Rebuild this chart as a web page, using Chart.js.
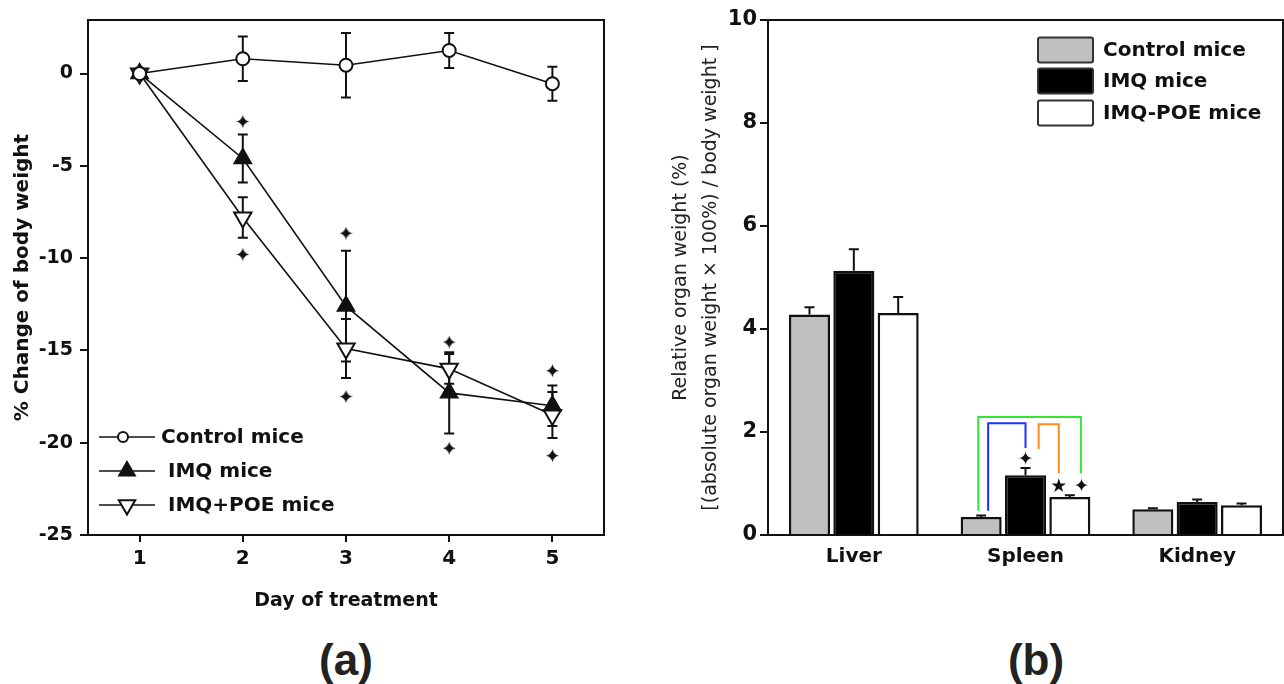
<!DOCTYPE html>
<html>
<head>
<meta charset="utf-8">
<script src="https://cdn.jsdelivr.net/npm/chart.js"></script>
<style>
  html, body { margin: 0; background: #fff; }
  body { width: 1284px; height: 684px; position: relative; overflow: hidden; }
  .box { position: absolute; top: 0; height: 620px; }
  #boxA { left: 0; width: 620px; }
  #boxB { left: 640px; width: 644px; }
  .tag { position: absolute; top: 634px; width: 120px; text-align: center;
         font: bold 44px "Liberation Sans", Arial, sans-serif; line-height: 52px; color: #222; }
</style>
</head>
<body>
<div class="box" id="boxA"><canvas id="weightChart"></canvas></div>
<div class="box" id="boxB"><canvas id="organChart"></canvas></div>
<div class="tag" style="left:286px">(a)</div>
<div class="tag" style="left:976px">(b)</div>
<script>
// (a) body weight change per day
const days = ['1', '2', '3', '4', '5'];
const weightTicks = [0, -5, -10, -15, -20, -25];
const controlMean = [0, 0.8, 0.45, 1.25, -0.55];
const controlErr = [0, 1.2, 1.75, 0.95, 0.92];
const imqMean = [0, -4.6, -12.6, -17.3, -18.0];
const imqErr = [0, 1.3, 3.0, 2.2, 1.1];
const poeMean = [0, -7.8, -14.9, -16.0, -18.5];
const poeErr = [0, 1.1, 1.6, 0.8, 1.25];
const markAbove = [null, -2.6, -8.65, -14.55, -16.1];
const markBelow = [null, -9.8, -17.5, -20.3, -20.7];

// (b) relative organ weight
const organs = ['Liver', 'Spleen', 'Kidney'];
const controlOrgan = [4.28, 0.35, 0.5];
const controlOrganErr = [0.14, 0.03, 0.02];
const imqOrgan = [5.13, 1.16, 0.64];
const imqOrganErr = [0.42, 0.14, 0.05];
const poeOrgan = [4.31, 0.74, 0.58];
const poeOrganErr = [0.31, 0.03, 0.03];
const imqOrganMark = ['', '✦', ''];
const imqOrganMarkAt = [null, 1.46, null];
const poeOrganMark = ['', '★ ✦', ''];
const poeOrganMarkAt = [null, 0.93, null];
// significance brackets over spleen (series index from/to, levels in %)
const brackets = [
  { cat: 1, from: 0, to: 2, top: 2.29, fromEnd: 0.47, toEnd: 1.2 },
  { cat: 1, from: 0, to: 1, top: 2.17, fromEnd: 0.47, toEnd: 1.69 },
  { cat: 1, from: 1, to: 2, top: 2.15, fromEnd: 1.67, toEnd: 1.2 },
];
const bracketStyle = [
  { color: '#33e633', dx: [-0.07, 0.27] },
  { color: '#1f2fff', dx: [0.17, 0] },
  { color: '#ff8a1c', dx: [0.32, -0.27] },
];

const ink = '#111';
const FONT = '"DejaVu Sans", sans-serif';
Chart.defaults.font.family = FONT;
Chart.defaults.color = ink;
Chart.defaults.animation = false;

// four point star used as point style
const starMark = (() => {
  const c = document.createElement('canvas');
  c.width = 13; c.height = 13;
  const g = c.getContext('2d');
  g.fillStyle = ink;
  g.beginPath();
  g.moveTo(6.5, 0);
  g.quadraticCurveTo(7.6, 5.4, 13, 6.5);
  g.quadraticCurveTo(7.6, 7.6, 6.5, 13);
  g.quadraticCurveTo(5.4, 7.6, 0, 6.5);
  g.quadraticCurveTo(5.4, 5.4, 6.5, 0);
  g.fill();
  return c;
})();

const frame = {
  id: 'frame',
  afterDraw(chart) {
    const { ctx, chartArea: a } = chart;
    ctx.save();
    ctx.strokeStyle = ink;
    ctx.lineWidth = 2;
    ctx.strokeRect(a.left, a.top, a.right - a.left, a.bottom - a.top);
    ctx.restore();
  }
};

const lineErrors = {
  id: 'lineErrors',
  beforeDatasetsDraw(chart) {
    const { ctx, scales: { y } } = chart;
    ctx.save();
    ctx.strokeStyle = ink;
    ctx.lineWidth = 2;
    chart.data.datasets.forEach((ds, i) => {
      if (!ds.errors) return;
      chart.getDatasetMeta(i).data.forEach((pt, j) => {
        const e = ds.errors[j];
        if (!e) return;
        const yt = y.getPixelForValue(ds.data[j] + e);
        const yb = y.getPixelForValue(ds.data[j] - e);
        ctx.beginPath();
        ctx.moveTo(pt.x, yt); ctx.lineTo(pt.x, yb);
        ctx.moveTo(pt.x - 5, yt); ctx.lineTo(pt.x + 5, yt);
        ctx.moveTo(pt.x - 5, yb); ctx.lineTo(pt.x + 5, yb);
        ctx.stroke();
      });
    });
    ctx.restore();
  }
};

function drawMarker(ctx, style, x, y, r, rot, fill) {
  ctx.beginPath();
  if (style === 'circle') {
    ctx.arc(x, y, r, 0, Math.PI * 2);
  } else {
    let a = rot * Math.PI / 180;
    for (let k = 0; k < 3; k++) {
      const px = x + Math.sin(a) * r, py = y - Math.cos(a) * r;
      k ? ctx.lineTo(px, py) : ctx.moveTo(px, py);
      a += Math.PI * 2 / 3;
    }
    ctx.closePath();
  }
  ctx.fillStyle = fill;
  ctx.fill();
  ctx.stroke();
}

const lineLegend = {
  id: 'lineLegend',
  afterDraw(chart) {
    const { ctx, chartArea: a } = chart;
    const rows = [98, 64, 30];
    const textX = [73, 80, 80];
    ctx.save();
    ctx.strokeStyle = ink;
    ctx.font = 'bold 20px ' + FONT;
    ctx.textBaseline = 'middle';
    chart.data.datasets.slice(0, 3).forEach((ds, i) => {
      const y = a.bottom - rows[i];
      const x0 = a.left + 11;
      ctx.lineWidth = 1.5;
      ctx.beginPath();
      ctx.moveTo(x0, y); ctx.lineTo(x0 + 56, y);
      ctx.stroke();
      ctx.lineWidth = ds.pointBorderWidth;
      if (ds.pointStyle === 'circle') drawMarker(ctx, 'circle', x0 + 24, y, 5, 0, ds.pointBackgroundColor);
      else drawMarker(ctx, 'triangle', x0 + 28, y, 9.5, ds.pointRotation || 0, ds.pointBackgroundColor);
      ctx.fillStyle = ink;
      ctx.fillText(ds.label, a.left + textX[i], y + 1);
    });
    ctx.restore();
  }
};

new Chart(document.getElementById('weightChart'), {
  type: 'line',
  data: {
    labels: days,
    datasets: [
      { label: 'Control mice', data: controlMean, errors: controlErr, pointStyle: 'circle', pointRadius: 6.5,
        pointBorderWidth: 2, pointBackgroundColor: '#fff', pointBorderColor: ink, borderColor: ink, borderWidth: 1.6 },
      { label: 'IMQ mice', data: imqMean, errors: imqErr, pointStyle: 'triangle', pointRadius: 10,
        pointBorderWidth: 1.5, pointBackgroundColor: ink, pointBorderColor: ink, borderColor: ink, borderWidth: 1.6 },
      { label: 'IMQ+POE mice', data: poeMean, errors: poeErr, pointStyle: 'triangle', pointRotation: 180, pointRadius: 10,
        pointBorderWidth: 2, pointBackgroundColor: '#fff', pointBorderColor: ink, borderColor: ink, borderWidth: 1.6 },
      { label: 'sig up', data: markAbove, showLine: false, pointStyle: starMark },
      { label: 'sig down', data: markBelow, showLine: false, pointStyle: starMark },
    ],
  },
  plugins: [lineErrors, frame, lineLegend],
  options: {
    responsive: true,
    maintainAspectRatio: false,
    events: [],
    layout: { padding: { top: 20, right: 16, left: 0, bottom: 0 } },
    plugins: { legend: { display: false }, tooltip: { enabled: false } },
    scales: {
      x: {
        type: 'category',
        offset: true,
        grid: { drawOnChartArea: false, tickLength: 7, lineWidth: 2, color: ink },
        border: { color: ink, width: 2 },
        ticks: { font: { size: 20, weight: 'bold' }, color: ink, padding: 5, maxRotation: 0 },
        title: { display: true, text: 'Day of treatment', color: ink,
                 font: { size: 19, weight: 'bold' }, padding: { top: 0, bottom: 7.6 } },
        afterFit(s) { s.height = 85; },
      },
      y: {
        min: -25,
        max: 2.9,
        afterBuildTicks(s) { s.ticks = weightTicks.map(v => ({ value: v })); },
        grid: { drawOnChartArea: false, tickLength: 8, lineWidth: 2, color: ink },
        border: { color: ink, width: 2 },
        ticks: { font: { size: 19, weight: 'bold' }, color: ink, padding: 7 },
        title: { display: true, text: '% Change of body weight', color: ink,
                 font: { size: 20, weight: 'bold' }, padding: { top: 11, bottom: 0 } },
        afterFit(s) { s.width = 88; },
      },
    },
  },
});

const organExtras = {
  id: 'organExtras',
  afterDatasetsDraw(chart) {
    const { ctx, scales: { y } } = chart;
    ctx.save();
    ctx.lineWidth = 2;
    ctx.strokeStyle = ink;
    ctx.fillStyle = ink;
    ctx.font = '19px ' + FONT;
    ctx.textAlign = 'center';
    ctx.textBaseline = 'middle';
    chart.data.datasets.forEach((ds, i) => {
      chart.getDatasetMeta(i).data.forEach((bar, j) => {
        const top = y.getPixelForValue(ds.data[j] + ds.errors[j]);
        ctx.beginPath();
        ctx.moveTo(bar.x, bar.y); ctx.lineTo(bar.x, top);
        ctx.moveTo(bar.x - 5, top); ctx.lineTo(bar.x + 5, top);
        ctx.stroke();
        if (ds.marks && ds.marks[j]) {
          ctx.fillText(ds.marks[j], bar.x, y.getPixelForValue(ds.markAt[j]));
        }
      });
    });
    brackets.forEach((b, k) => {
      const st = bracketStyle[k];
      const p = chart.getDatasetMeta(b.from).data[b.cat];
      const q = chart.getDatasetMeta(b.to).data[b.cat];
      const x1 = p.x + st.dx[0] * p.width;
      const x2 = q.x + st.dx[1] * q.width;
      ctx.strokeStyle = st.color;
      ctx.beginPath();
      ctx.moveTo(x1, y.getPixelForValue(b.fromEnd));
      ctx.lineTo(x1, y.getPixelForValue(b.top));
      ctx.lineTo(x2, y.getPixelForValue(b.top));
      ctx.lineTo(x2, y.getPixelForValue(b.toEnd));
      ctx.stroke();
    });
    ctx.restore();
  },
  afterDraw(chart) {
    const { ctx, chartArea: a } = chart;
    const rows = [30, 61, 93];
    ctx.save();
    ctx.font = 'bold 20px ' + FONT;
    ctx.textBaseline = 'middle';
    ctx.lineWidth = 2;
    chart.data.datasets.forEach((ds, i) => {
      const yc = a.top + rows[i];
      ctx.fillStyle = ds.backgroundColor;
      ctx.strokeStyle = '#333';
      ctx.beginPath();
      ctx.roundRect(a.right - 245, yc - 12.5, 55, 25, 2);
      ctx.fill();
      ctx.stroke();
      ctx.fillStyle = ink;
      ctx.fillText(ds.label, a.right - 180, yc + 1);
    });
    ctx.restore();
  }
};

new Chart(document.getElementById('organChart'), {
  type: 'bar',
  data: {
    labels: organs,
    datasets: [
      { label: 'Control mice', data: controlOrgan, errors: controlOrganErr, backgroundColor: '#c0c0c0' },
      { label: 'IMQ mice', data: imqOrgan, errors: imqOrganErr, backgroundColor: '#000',
        marks: imqOrganMark, markAt: imqOrganMarkAt },
      { label: 'IMQ-POE mice', data: poeOrgan, errors: poeOrganErr, backgroundColor: '#fff',
        marks: poeOrganMark, markAt: poeOrganMarkAt },
    ],
  },
  plugins: [organExtras, frame],
  options: {
    responsive: true,
    maintainAspectRatio: false,
    events: [],
    layout: { padding: { top: 20, right: 1, left: 0, bottom: 0 } },
    datasets: { bar: { borderColor: '#111', borderWidth: 2.5, categoryPercentage: 0.775, barPercentage: 0.925 } },
    plugins: { legend: { display: false }, tooltip: { enabled: false } },
    scales: {
      x: {
        grid: { display: false, drawTicks: false },
        border: { color: ink, width: 2 },
        ticks: { font: { size: 20, weight: 'bold' }, color: ink, padding: 10 },
        afterFit(s) { s.height = 85; },
      },
      y: {
        min: 0,
        max: 10,
        ticks: { stepSize: 2, font: { size: 21, weight: 'bold' }, color: ink, padding: 3 },
        grid: { drawOnChartArea: false, tickLength: 8, lineWidth: 2, color: ink },
        border: { color: ink, width: 2 },
        title: { display: true, color: '#222',
                 text: ['Relative organ weight (%)', '[(absolute organ weight × 100%) / body weight ]'],
                 font: { size: 19, lineHeight: 1.58 }, padding: { top: 26, bottom: 0 } },
        afterFit(s) { s.width = 128; },
      },
    },
  },
});
</script>
</body>
</html>
